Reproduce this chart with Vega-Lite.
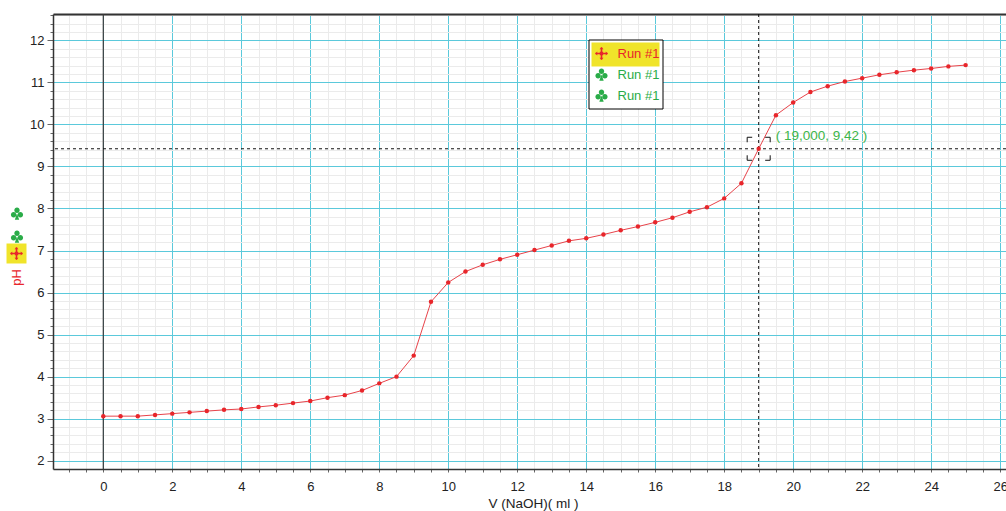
{
  "$schema": "https://vega.github.io/schema/vega-lite/v6.json",
  "width": 953,
  "height": 455,
  "autosize": "none",
  "padding": {"left": 53, "top": 14, "right": 0, "bottom": 42},
  "background": "white",
  "config": {"view": {"stroke": null}, "font": "Liberation Sans"},
  "datasets": {
    "titr": [
      {"V": 0, "pH": 3.06, "run": "A", "hl": "H", "lg": "Z", "lh": "W"},
      {"V": 0.5, "pH": 3.06, "run": "A", "hl": "H", "lg": "Z", "lh": "W"},
      {"V": 1, "pH": 3.06, "run": "A", "hl": "H", "lg": "Z", "lh": "W"},
      {"V": 1.5, "pH": 3.09, "run": "A", "hl": "H", "lg": "Z", "lh": "W"},
      {"V": 2, "pH": 3.12, "run": "A", "hl": "H", "lg": "Z", "lh": "W"},
      {"V": 2.5, "pH": 3.15, "run": "A", "hl": "H", "lg": "Z", "lh": "W"},
      {"V": 3, "pH": 3.18, "run": "A", "hl": "H", "lg": "Z", "lh": "W"},
      {"V": 3.5, "pH": 3.21, "run": "A", "hl": "H", "lg": "Z", "lh": "W"},
      {"V": 4, "pH": 3.23, "run": "A", "hl": "H", "lg": "Z", "lh": "W"},
      {"V": 4.5, "pH": 3.28, "run": "A", "hl": "H", "lg": "Z", "lh": "W"},
      {"V": 5, "pH": 3.32, "run": "A", "hl": "H", "lg": "Z", "lh": "W"},
      {"V": 5.5, "pH": 3.37, "run": "A", "hl": "H", "lg": "Z", "lh": "W"},
      {"V": 6, "pH": 3.42, "run": "A", "hl": "H", "lg": "Z", "lh": "W"},
      {"V": 6.5, "pH": 3.5, "run": "A", "hl": "H", "lg": "Z", "lh": "W"},
      {"V": 7, "pH": 3.56, "run": "A", "hl": "H", "lg": "Z", "lh": "W"},
      {"V": 7.5, "pH": 3.67, "run": "A", "hl": "H", "lg": "Z", "lh": "W"},
      {"V": 8, "pH": 3.84, "run": "A", "hl": "H", "lg": "Z", "lh": "W"},
      {"V": 8.5, "pH": 4.0, "run": "A", "hl": "H", "lg": "Z", "lh": "W"},
      {"V": 9, "pH": 4.5, "run": "A", "hl": "H", "lg": "Z", "lh": "W"},
      {"V": 9.5, "pH": 5.78, "run": "A", "hl": "H", "lg": "Z", "lh": "W"},
      {"V": 10, "pH": 6.24, "run": "A", "hl": "H", "lg": "Z", "lh": "W"},
      {"V": 10.5, "pH": 6.5, "run": "A", "hl": "H", "lg": "Z", "lh": "W"},
      {"V": 11, "pH": 6.66, "run": "A", "hl": "H", "lg": "Z", "lh": "W"},
      {"V": 11.5, "pH": 6.79, "run": "A", "hl": "H", "lg": "Z", "lh": "W"},
      {"V": 12, "pH": 6.9, "run": "A", "hl": "H", "lg": "Z", "lh": "W"},
      {"V": 12.5, "pH": 7.01, "run": "A", "hl": "H", "lg": "Z", "lh": "W"},
      {"V": 13, "pH": 7.12, "run": "A", "hl": "H", "lg": "Z", "lh": "W"},
      {"V": 13.5, "pH": 7.23, "run": "A", "hl": "H", "lg": "Z", "lh": "W"},
      {"V": 14, "pH": 7.29, "run": "A", "hl": "H", "lg": "Z", "lh": "W"},
      {"V": 14.5, "pH": 7.38, "run": "A", "hl": "H", "lg": "Z", "lh": "W"},
      {"V": 15, "pH": 7.48, "run": "A", "hl": "H", "lg": "Z", "lh": "W"},
      {"V": 15.5, "pH": 7.57, "run": "A", "hl": "H", "lg": "Z", "lh": "W"},
      {"V": 16, "pH": 7.67, "run": "A", "hl": "H", "lg": "Z", "lh": "W"},
      {"V": 16.5, "pH": 7.78, "run": "A", "hl": "H", "lg": "Z", "lh": "W"},
      {"V": 17, "pH": 7.92, "run": "A", "hl": "H", "lg": "Z", "lh": "W"},
      {"V": 17.5, "pH": 8.03, "run": "A", "hl": "H", "lg": "Z", "lh": "W"},
      {"V": 18, "pH": 8.24, "run": "A", "hl": "H", "lg": "Z", "lh": "W"},
      {"V": 18.5, "pH": 8.6, "run": "A", "hl": "H", "lg": "Z", "lh": "W"},
      {"V": 19, "pH": 9.42, "run": "A", "hl": "H", "lg": "Z", "lh": "W"},
      {"V": 19.5, "pH": 10.22, "run": "A", "hl": "H", "lg": "Z", "lh": "W"},
      {"V": 20, "pH": 10.52, "run": "A", "hl": "H", "lg": "Z", "lh": "W"},
      {"V": 20.5, "pH": 10.77, "run": "A", "hl": "H", "lg": "Z", "lh": "W"},
      {"V": 21, "pH": 10.91, "run": "A", "hl": "H", "lg": "Z", "lh": "W"},
      {"V": 21.5, "pH": 11.02, "run": "A", "hl": "H", "lg": "Z", "lh": "W"},
      {"V": 22, "pH": 11.1, "run": "A", "hl": "H", "lg": "Z", "lh": "W"},
      {"V": 22.5, "pH": 11.18, "run": "A", "hl": "H", "lg": "Z", "lh": "W"},
      {"V": 23, "pH": 11.24, "run": "A", "hl": "H", "lg": "Z", "lh": "W"},
      {"V": 23.5, "pH": 11.29, "run": "A", "hl": "H", "lg": "Z", "lh": "W"},
      {"V": 24, "pH": 11.33, "run": "A", "hl": "H", "lg": "Z", "lh": "W"},
      {"V": 24.5, "pH": 11.38, "run": "A", "hl": "H", "lg": "Z", "lh": "W"},
      {"V": 25, "pH": 11.41, "run": "A", "hl": "H", "lg": "Z", "lh": "W"}
    ],
    "cursor": [{"V": 19, "pH": 9.42, "label": "( 19,000, 9,42 )"}]
  },
  "resolve": {"axis": {"x": "independent", "y": "independent"}},
  "layer": [
    {
      "data": {"values": [{"V": 0}]},
      "mark": {"type": "rule", "color": "#3a3a3a", "strokeWidth": 1.2},
      "encoding": {
        "x": {"field": "V", "type": "quantitative",
          "scale": {"domain": [-1.458, 26.17], "nice": false, "zero": false},
          "axis": {"orient": "top", "domain": true, "domainColor": "#333", "domainWidth": 2, "ticks": false, "labels": false, "grid": false, "title": null}}
      }
    },
    {
      "data": {"name": "titr"},
      "mark": {"type": "line", "color": "#e8434a", "strokeWidth": 1},
      "encoding": {
        "x": {"field": "V", "type": "quantitative",
          "scale": {"domain": [-1.458, 26.17], "nice": false, "zero": false},
          "axis": {
            "title": "V (NaOH)( ml )",
            "values": [-1,-0.5,0,0.5,1,1.5,2,2.5,3,3.5,4,4.5,5,5.5,6,6.5,7,7.5,8,8.5,9,9.5,10,10.5,11,11.5,12,12.5,13,13.5,14,14.5,15,15.5,16,16.5,17,17.5,18,18.5,19,19.5,20,20.5,21,21.5,22,22.5,23,23.5,24,24.5,25,25.5,26],
            "grid": true,
            "gridColor": {"condition": {"test": "datum.value % 2 === 0", "value": "#5bc9db"}, "value": "#ebebeb"},
            "gridWidth": 1,
            "labelExpr": "datum.value % 2 === 0 ? format(datum.value, '.0f') : ''",
            "labelOverlap": false,
            "labelFlush": false,
            "tickSize": 3,
            "tickColor": "#666",
            "domainColor": "#333",
            "domainWidth": 1.5,
            "labelFont": "Liberation Sans",
            "labelFontSize": 13,
            "labelColor": "#222",
            "labelPadding": 8,
            "titleFont": "Liberation Sans",
            "titleFontSize": 13.5,
            "titleFontWeight": "normal",
            "titleColor": "#222",
            "titleX": 480,
            "titleY": 38.5,
            "titleBaseline": "alphabetic",
            "titleAlign": "center"
          }},
        "y": {"field": "pH", "type": "quantitative",
          "scale": {"domain": [1.803, 12.626], "nice": false, "zero": false},
          "axis": {
            "title": "pH",
            "values": [2,2.2,2.4,2.6,2.8,3,3.2,3.4,3.6,3.8,4,4.2,4.4,4.6,4.8,5,5.2,5.4,5.6,5.8,6,6.2,6.4,6.6,6.8,7,7.2,7.4,7.6,7.8,8,8.2,8.4,8.6,8.8,9,9.2,9.4,9.6,9.8,10,10.2,10.4,10.6,10.8,11,11.2,11.4,11.6,11.8,12,12.2,12.4,12.6],
            "grid": true,
            "gridColor": {"condition": {"test": "abs(datum.value - round(datum.value)) < 0.01", "value": "#5bc9db"}, "value": "#ebebeb"},
            "gridWidth": 1,
            "tickSize": {"condition": {"test": "abs(datum.value - round(datum.value)) < 0.01", "value": 6}, "value": 3},
            "tickColor": "#666",
            "labelExpr": "abs(datum.value - round(datum.value)) < 0.01 ? format(datum.value, '.0f') : ''",
            "labelOverlap": false,
            "labelFlush": false,
            "labelPadding": 3,
            "domainColor": "#333",
            "domainWidth": 1.5,
            "labelFont": "Liberation Sans",
            "labelFontSize": 13,
            "labelColor": "#222",
            "titleFont": "Liberation Sans",
            "titleFontSize": 13,
            "titleFontWeight": "normal",
            "titleColor": "#e8262b",
            "titleX": -37,
            "titleY": 263,
            "titleAlign": "center",
            "titleBaseline": "middle"
          }}
      }
    },
    {
      "data": {"name": "cursor"},
      "mark": {"type": "rule", "color": "#111", "strokeWidth": 1, "strokeDash": [3, 3]},
      "encoding": {
        "x": {"field": "V", "type": "quantitative", "scale": {"domain": [-1.458, 26.17], "nice": false, "zero": false}, "axis": null}
      }
    },
    {
      "data": {"name": "cursor"},
      "mark": {"type": "rule", "color": "#111", "strokeWidth": 1, "strokeDash": [3, 3]},
      "encoding": {
        "y": {"field": "pH", "type": "quantitative", "scale": {"domain": [1.803, 12.626], "nice": false, "zero": false}, "axis": null}
      }
    },
    {
      "data": {"name": "titr"},
      "mark": {"type": "point", "filled": true, "size": 20},
      "encoding": {
        "x": {"field": "V", "type": "quantitative", "scale": {"domain": [-1.458, 26.17], "nice": false, "zero": false}, "axis": null},
        "y": {"field": "pH", "type": "quantitative", "scale": {"domain": [1.803, 12.626], "nice": false, "zero": false}, "axis": null},
        "color": {"field": "run", "type": "nominal",
          "scale": {"domain": ["A", "B", "C"], "range": ["#e8262b", "#2aac48", "#2aac48"]},
          "legend": {
            "orient": "none", "legendX": 535.5, "legendY": 25.5, "title": null,
            "padding": 3, "strokeColor": "#000", "fillColor": "#fff",
            "symbolSize": 400, "symbolOffset": -1, "labelOffset": 5, "rowPadding": 0,
            "symbolOpacity": 1,
            "symbolType": {"expr": "datum.value === 'A' ? 'M-0.62,-0.08H0.62V0.08H-0.62Z M-0.08,-0.62H0.08V0.62H-0.08Z M-0.66,0L-0.42,-0.2L-0.42,0.2Z M0.66,0L0.42,0.2L0.42,-0.2Z M0,-0.66L0.2,-0.42L-0.2,-0.42Z M0,0.66L-0.2,0.42L0.2,0.42Z M-0.17,-0.17H0.17V0.17H-0.17Z M-1,-1M1,1' : 'M-0.27,-0.32A0.27,0.27 0 1,0 0.27,-0.32A0.27,0.27 0 1,0 -0.27,-0.32Z M-0.61,0.12A0.27,0.27 0 1,0 -0.07,0.12A0.27,0.27 0 1,0 -0.61,0.12Z M0.07,0.12A0.27,0.27 0 1,0 0.61,0.12A0.27,0.27 0 1,0 0.07,0.12Z M0,0L-0.22,0.62L0.22,0.62Z M-1,-1M1,1'"},
            "labelColor": {"expr": "datum.value === 'A' ? '#e8262b' : '#2aac48'"},
            "labelFont": "Liberation Sans", "labelFontSize": 13,
            "labelExpr": "'Run #1    '"
          }},
        "opacity": {"field": "hl", "type": "ordinal",
          "scale": {"domain": ["H"], "range": [1, 1]},
          "legend": {
            "orient": "none", "legendX": 538.5, "legendY": 28.5, "title": null,
            "padding": 0, "strokeColor": null, "fillColor": "#f0e42a",
            "symbolSize": 400, "symbolOffset": -1, "labelOffset": 5, "rowPadding": 0,
            "symbolOpacity": 1,
            "symbolFillColor": "#e8262b",
            "symbolStrokeColor": "transparent",
            "symbolType": "M-0.62,-0.08H0.62V0.08H-0.62Z M-0.08,-0.62H0.08V0.62H-0.08Z M-0.66,0L-0.42,-0.2L-0.42,0.2Z M0.66,0L0.42,0.2L0.42,-0.2Z M0,-0.66L0.2,-0.42L-0.2,-0.42Z M0,0.66L-0.2,0.42L0.2,0.42Z M-0.17,-0.17H0.17V0.17H-0.17Z M-1,-1M1,1",
            "labelColor": "#e8262b",
            "labelFont": "Liberation Sans", "labelFontSize": 13,
            "labelExpr": "'Run #1    '"
          }},
        "strokeWidth": {"field": "lg", "type": "ordinal",
          "scale": {"domain": ["X", "Y", "Z"], "range": [1, 1]},
          "legend": {
            "orient": "none", "legendX": -46.5, "legendY": 189, "title": null,
            "padding": 0, "strokeColor": null, "fillColor": null,
            "symbolSize": 400, "symbolOffset": 0, "labelOffset": 0, "rowPadding": -8.5,
            "symbolOpacity": 1,
            "symbolFillColor": {"expr": "datum.value === 'Z' ? 'transparent' : '#2aac48'"},
            "symbolStrokeColor": "transparent",
            "symbolType": "M-0.27,-0.32A0.27,0.27 0 1,0 0.27,-0.32A0.27,0.27 0 1,0 -0.27,-0.32Z M-0.61,0.12A0.27,0.27 0 1,0 -0.07,0.12A0.27,0.27 0 1,0 -0.61,0.12Z M0.07,0.12A0.27,0.27 0 1,0 0.61,0.12A0.27,0.27 0 1,0 0.07,0.12Z M0,0L-0.22,0.62L0.22,0.62Z M-1,-1M1,1",
            "labelFontSize": 1,
            "labelExpr": "''"
          }},
        "strokeDash": {"field": "lh", "type": "nominal",
          "scale": {"domain": ["W"], "range": [[1, 0]]},
          "legend": {
            "orient": "none", "legendX": -46.5, "legendY": 229.5, "title": null,
            "padding": 0, "strokeColor": null, "fillColor": "#f0e42a",
            "symbolSize": 400, "symbolOffset": 0, "labelOffset": 0, "rowPadding": 0,
            "symbolOpacity": 1,
            "symbolFillColor": "#e8262b",
            "symbolStrokeColor": "transparent",
            "symbolStrokeWidth": 0,
            "symbolType": "M-0.62,-0.08H0.62V0.08H-0.62Z M-0.08,-0.62H0.08V0.62H-0.08Z M-0.66,0L-0.42,-0.2L-0.42,0.2Z M0.66,0L0.42,0.2L0.42,-0.2Z M0,-0.66L0.2,-0.42L-0.2,-0.42Z M0,0.66L-0.2,0.42L0.2,0.42Z M-0.17,-0.17H0.17V0.17H-0.17Z M-1,-1M1,1",
            "labelFontSize": 1,
            "labelExpr": "''"
          }}
      }
    },
    {
      "data": {"name": "cursor"},
      "mark": {"type": "point", "shape": "square", "size": 529, "filled": false, "color": "#111", "strokeWidth": 1, "strokeDash": [10, 13], "strokeDashOffset": 5, "opacity": 1},
      "encoding": {
        "x": {"field": "V", "type": "quantitative", "scale": {"domain": [-1.458, 26.17], "nice": false, "zero": false}, "axis": null},
        "y": {"field": "pH", "type": "quantitative", "scale": {"domain": [1.803, 12.626], "nice": false, "zero": false}, "axis": null}
      }
    },
    {
      "data": {"name": "cursor"},
      "mark": {"type": "text", "align": "left", "baseline": "middle", "dx": 17, "dy": -13, "color": "#3db54a", "font": "Liberation Sans", "fontSize": 13.5},
      "encoding": {
        "x": {"field": "V", "type": "quantitative", "scale": {"domain": [-1.458, 26.17], "nice": false, "zero": false}, "axis": null},
        "y": {"field": "pH", "type": "quantitative", "scale": {"domain": [1.803, 12.626], "nice": false, "zero": false}, "axis": null},
        "text": {"field": "label"}
      }
    }
  ]
}
